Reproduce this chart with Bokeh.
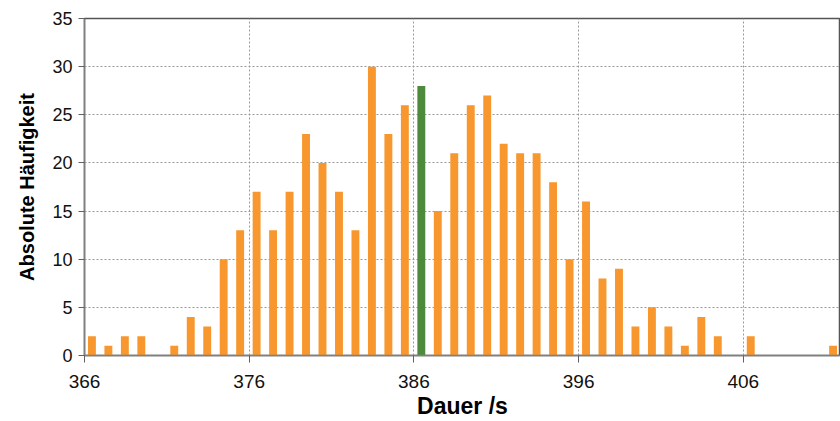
from bokeh.plotting import figure
from bokeh.models import ColumnDataSource, FixedTicker, Range1d
from bokeh.transform import dodge
from bokeh.embed import file_html
from bokeh.resources import INLINE

seconds = list(range(366, 412))
counts = [2, 1, 2, 2, 0, 1, 4, 3, 10, 13,
          17, 13, 17, 23, 20, 17, 13, 30, 23, 26,
          28, 15, 21, 26, 27, 22, 21, 21, 18, 10,
          16, 8, 9, 3, 5, 3, 1, 4, 2, 0,
          2, 0, 0, 0, 0, 1]
highlight = 386
x_ticks = [366, 376, 386, 396, 406]
y_ticks = [0, 5, 10, 15, 20, 25, 30, 35]

colors = ["#4E8A3C" if s == highlight else "#F7972D" for s in seconds]
src = ColumnDataSource(dict(x=seconds, y=counts, c=colors))

p = figure(width=840, height=421, output_backend="svg", toolbar_location=None,
           x_range=Range1d(366, 411.9), y_range=Range1d(0, 35),
           min_border_left=84, min_border_right=0, min_border_top=18,
           min_border_bottom=10)

p.vbar(x=dodge("x", 0.45), top="y", width=0.48, bottom=0, fill_color="c",
       line_color=None, source=src)

p.xaxis.ticker = FixedTicker(ticks=x_ticks)
p.yaxis.ticker = FixedTicker(ticks=y_ticks)
for ax in (p.xaxis, p.yaxis):
    ax.axis_line_color = "#808080"
    ax.axis_line_width = 1.5
    ax.major_tick_line_color = "#606060"
    ax.major_tick_in = 0
    ax.minor_tick_line_color = None
    ax.major_label_text_font = "Liberation Sans"
    ax.major_label_text_color = "#111111"
    ax.axis_label_text_font = "Liberation Sans"
    ax.axis_label_text_font_style = "bold"
    ax.axis_label_text_color = "#000000"
p.xaxis.major_label_text_font_size = "19px"
p.yaxis.major_label_text_font_size = "18px"
p.xaxis.major_tick_out = 7
p.yaxis.major_tick_out = 6
p.xaxis.major_label_standoff = 12
p.yaxis.major_label_standoff = 6
p.xaxis.axis_label = "Dauer /s"
p.yaxis.axis_label = "Absolute Häufigkeit"
p.xaxis.axis_label_text_font_size = "23px"
p.yaxis.axis_label_text_font_size = "20px"
p.xaxis.axis_label_standoff = 2
p.yaxis.axis_label_standoff = 11

p.xgrid.grid_line_color = "#999999"
p.xgrid.grid_line_dash = "2 2"
p.ygrid.grid_line_color = "#999999"
p.ygrid.grid_line_dash = "2 2"

p.outline_line_color = "#555555"
p.outline_line_width = 1.5
p.background_fill_color = "white"
p.border_fill_color = "white"

open("out.html", "w").write(file_html(p, INLINE))
